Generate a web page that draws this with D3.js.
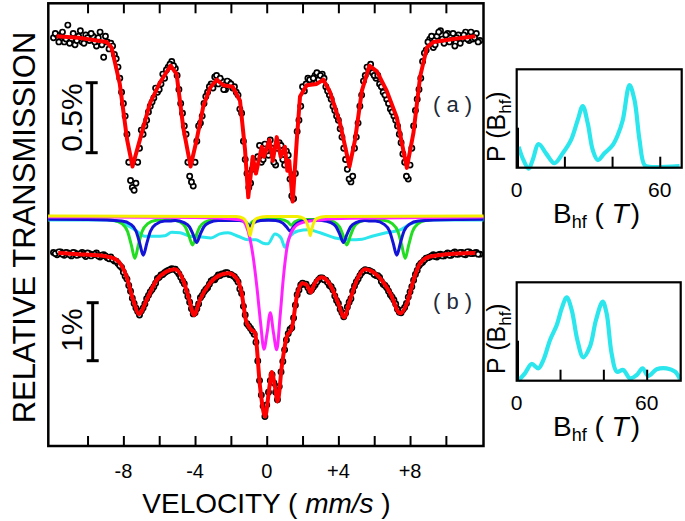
<!DOCTYPE html>
<html><head><meta charset="utf-8">
<script src="https://cdn.jsdelivr.net/npm/d3@7/dist/d3.min.js"></script>
<style>
body{margin:0;background:#fff}
svg{display:block;font-family:"Liberation Sans",Arial,Helvetica,sans-serif}
text{white-space:pre}
</style>
</head><body>
<svg id="chart" width="685" height="521"></svg>
<script>
// ---------- DATA ----------
// channel velocities (mm/s), two interleaved channel sets of the folded spectrum
const channelVelocity1 = [-11.9,-11.7,-11.5,-11.3,-11.1,-10.9,-10.7,-10.5,-10.3,-10.1,
-9.9,-9.7,-9.5,-9.3,-9.1,-8.9,-8.7,-8.5,-8.3,-8.1,
-7.9,-7.7,-7.5,-7.3,-7.1,-6.9,-6.7,-6.5,-6.3,-6.1,
-5.9,-5.7,-5.5,-5.3,-5.1,-4.9,-4.7,-4.5,-4.3,-4.1,
-3.9,-3.7,-3.5,-3.3,-3.1,-2.9,-2.7,-2.5,-2.3,-2.1,
-1.9,-1.7,-1.5,-1.3,-1.1,-0.9,-0.7,-0.5,-0.3,-0.1,
0.1,0.3,0.5,0.7,0.9,1.1,1.3,1.5,1.7,1.9,
2.1,2.3,2.5,2.7,2.9,3.1,3.3,3.5,3.7,3.9,
4.1,4.3,4.5,4.7,4.9,5.1,5.3,5.5,5.7,5.9,
6.1,6.3,6.5,6.7,6.9,7.1,7.3,7.5,7.7,7.9,
8.1,8.3,8.5,8.7,8.9,9.1,9.3,9.5,9.7,9.9,
10.1,10.3,10.5,10.7,10.9,11.1,11.3,11.5,11.7,11.9];
const channelVelocity2 = [-11.8,-11.6,-11.4,-11.2,-11.0,-10.8,-10.6,-10.4,-10.2,-10.0,
-9.8,-9.6,-9.4,-9.2,-9.0,-8.8,-8.6,-8.4,-8.2,-8.0,
-7.8,-7.6,-7.4,-7.2,-7.0,-6.8,-6.6,-6.4,-6.2,-6.0,
-5.8,-5.6,-5.4,-5.2,-5.0,-4.8,-4.6,-4.4,-4.2,-4.0,
-3.8,-3.6,-3.4,-3.2,-3.0,-2.8,-2.6,-2.4,-2.2,-2.0,
-1.8,-1.6,-1.4,-1.2,-1.0,-0.8,-0.6,-0.4,-0.2,0.0,
0.2,0.4,0.6,0.8,1.0,1.2,1.4,1.6,1.8,2.0,
2.2,2.4,2.6,2.8,3.0,3.2,3.4,3.6,3.8,4.0,
4.2,4.4,4.6,4.8,5.0,5.2,5.4,5.6,5.8,6.0,
6.2,6.4,6.6,6.8,7.0,7.2,7.4,7.6,7.8,8.0,
8.2,8.4,8.6,8.8,9.0,9.2,9.4,9.6,9.8,10.0,
10.2,10.4,10.6,10.8,11.0,11.2,11.4,11.6,11.8];

// spectrum (a): measured relative transmission (%)
const spectrumA1 = [99.99,100.01,99.97,99.96,100.08,99.98,99.94,100.00,99.96,100.01,
99.97,100.00,99.93,100.03,99.85,99.96,99.95,99.87,99.78,99.60,
99.43,99.10,98.92,98.95,99.20,99.30,99.40,99.50,99.56,99.60,
99.66,99.70,99.78,99.82,99.77,99.62,99.45,99.30,99.00,98.93,
99.25,99.38,99.52,99.60,99.66,99.71,99.66,99.68,99.62,99.67,
99.63,99.60,99.48,99.25,99.02,98.95,99.12,99.14,99.10,99.23,
99.15,99.20,99.08,99.24,99.12,99.18,98.98,98.84,99.32,99.50,
99.61,99.70,99.68,99.72,99.69,99.73,99.64,99.58,99.50,99.43,
99.34,99.20,99.05,98.96,99.20,99.38,99.58,99.72,99.76,99.74,
99.70,99.66,99.60,99.55,99.48,99.43,99.36,99.24,99.10,98.98,
99.20,99.47,99.62,99.82,99.90,99.98,99.92,100.00,100.04,99.95,
100.02,99.97,99.93,100.01,99.98,100.03,99.97,99.98,100.02,99.97];
const spectrumA2 = [100.02,99.96,100.03,99.98,99.95,100.02,99.97,100.04,99.95,99.99,
100.02,99.96,99.99,99.94,100.00,99.91,99.93,99.84,99.70,99.52,
99.30,98.97,98.90,99.10,99.33,99.36,99.46,99.53,99.63,99.62,
99.73,99.76,99.80,99.79,99.72,99.52,99.36,99.10,98.96,99.10,
99.36,99.43,99.57,99.64,99.63,99.72,99.70,99.62,99.68,99.66,
99.64,99.58,99.45,99.12,98.92,99.05,99.10,99.22,99.12,99.18,
99.26,99.10,99.20,99.22,99.08,99.15,98.86,99.02,99.40,99.64,
99.66,99.69,99.70,99.74,99.72,99.70,99.61,99.55,99.47,99.40,
99.28,99.12,98.98,99.00,99.28,99.50,99.68,99.78,99.80,99.72,
99.72,99.64,99.58,99.52,99.46,99.40,99.30,99.16,99.00,99.08,
99.36,99.55,99.70,99.88,99.96,100.00,99.94,100.03,99.98,100.01,
99.96,100.02,99.99,99.95,100.01,99.98,100.03,99.99,99.96];

// spectrum (b): measured relative transmission (%)
const spectrumB1 = [100.01,99.97,100.02,99.96,100.00,99.95,100.00,99.97,100.01,99.94,
99.99,99.97,100.00,99.93,99.97,99.92,99.93,99.86,99.82,99.75,
99.60,99.44,99.22,99.05,98.93,99.05,99.21,99.33,99.42,99.56,
99.62,99.66,99.70,99.73,99.72,99.64,99.52,99.34,99.15,98.95,
99.04,99.23,99.33,99.40,99.52,99.54,99.62,99.64,99.66,99.63,
99.61,99.55,99.38,99.08,98.78,98.70,98.60,98.14,97.55,97.18,
97.60,97.90,97.60,97.70,98.13,98.50,98.68,98.88,99.28,99.45,
99.46,99.40,99.36,99.45,99.54,99.57,99.53,99.44,99.36,99.18,
99.03,98.90,99.07,99.21,99.43,99.55,99.66,99.71,99.70,99.67,
99.61,99.58,99.46,99.40,99.28,99.19,99.03,98.97,99.06,99.24,
99.42,99.63,99.78,99.84,99.91,99.93,99.97,99.93,99.98,99.95,
100.00,99.96,100.02,99.98,100.01,99.97,100.02,99.99,100.01,99.98];
const spectrumB2 = [99.99,100.02,99.98,100.01,99.97,100.01,99.96,99.99,99.97,100.00,
99.95,99.98,99.95,99.96,99.95,99.90,99.89,99.86,99.78,99.67,
99.55,99.34,99.13,98.99,99.00,99.12,99.27,99.37,99.48,99.58,
99.63,99.68,99.71,99.72,99.68,99.58,99.47,99.25,99.04,98.97,
99.12,99.27,99.37,99.46,99.54,99.58,99.61,99.64,99.66,99.63,
99.59,99.50,99.30,98.93,98.74,98.65,98.46,97.80,97.36,97.38,
97.80,97.76,97.47,97.95,98.33,98.61,98.71,99.10,99.36,99.48,
99.46,99.34,99.41,99.50,99.57,99.54,99.49,99.42,99.26,99.13,
98.97,98.96,99.15,99.34,99.50,99.61,99.69,99.70,99.68,99.63,
99.61,99.51,99.44,99.34,99.24,99.12,98.98,99.02,99.13,99.33,
99.53,99.70,99.82,99.88,99.92,99.95,99.94,99.97,99.95,99.98,
99.96,100.00,99.98,100.01,99.98,100.02,99.99,100.00,99.98];

// fitted curves [velocity, transmission %]
const fitA = [[-11.73,100.00],[-10.5,99.99],[-9.5,99.97],[-8.94,99.96],[-8.66,99.92],[-8.2,99.66],[-7.79,99.26],[-7.49,99.07],
[-7.08,99.26],[-6.52,99.52],[-5.96,99.67],[-5.36,99.79],[-5.03,99.73],[-4.66,99.35],[-4.25,99.07],[-3.91,99.26],[-3.54,99.50],
[-3.17,99.63],[-2.79,99.69],[-2.42,99.65],[-1.90,99.64],[-1.49,99.54],[-1.21,99.19],[-1.03,98.85],[-0.78,99.14],[-0.60,99.02],
[-0.28,99.21],[-0.15,99.14],[0.15,99.26],[0.34,99.11],[0.56,99.28],[0.78,99.14],[1.02,99.21],[1.15,99.04],[1.26,99.11],[1.45,98.82],
[1.68,99.26],[1.86,99.57],[2.23,99.65],[2.79,99.66],[3.16,99.69],[3.54,99.60],[4.09,99.38],[4.62,99.07],[4.93,99.26],[5.31,99.61],
[5.73,99.79],[6.15,99.75],[6.70,99.61],[7.26,99.42],[7.82,99.06],[8.19,99.31],[8.56,99.71],[8.94,99.92],[9.31,99.96],[10.42,99.98],[11.64,100.00]];

const fitB = [[-11.64,100.00],[-10.5,99.98],[-8.94,99.94],[-8.38,99.88],[-7.82,99.59],[-7.45,99.19],[-7.12,98.95],[-6.7,99.19],
[-6.15,99.53],[-5.59,99.68],[-5.12,99.72],[-4.66,99.53],[-4.32,99.19],[-4.06,98.93],[-3.73,99.19],[-3.17,99.48],[-2.61,99.62],
[-2.15,99.65],[-1.68,99.56],[-1.4,99.31],[-1.16,98.84],[-0.93,98.70],[-0.65,98.62],[-0.37,97.69],[-0.09,97.18],[0.15,97.69],
[0.28,97.95],[0.46,97.69],[0.61,97.44],[0.84,98.04],[1.12,98.56],[1.4,98.70],[1.68,99.25],[1.96,99.48],[2.23,99.45],[2.46,99.32],
[2.64,99.45],[3.07,99.58],[3.54,99.45],[4.0,99.13],[4.32,98.89],[4.65,99.19],[5.03,99.53],[5.49,99.72],[6.15,99.62],[6.89,99.31],
[7.45,98.96],[7.82,99.13],[8.19,99.53],[8.56,99.82],[9.12,99.94],[10.61,99.99],[11.64,100.00]];

// fitted sub-spectra of (b), each relative to its own baseline (%)
const compCyan = [[-12.2,100],[-8.9,100],[-8.4,99.98],[-7.9,99.93],[-7.36,99.83],[-6.8,99.72],[-6.24,99.72],[-5.68,99.73],[-5.3,99.79],
[-4.84,99.78],[-4.28,99.72],[-3.73,99.71],[-3.11,99.69],[-2.61,99.76],[-2.16,99.78],[-1.6,99.72],[-1.04,99.66],[-0.6,99.66],[-0.2,99.60],
[0.07,99.59],[0.46,99.76],[0.8,99.69],[1.02,99.53],[1.3,99.72],[1.75,99.81],[2.31,99.83],[2.98,99.78],[3.82,99.69],[4.65,99.66],
[5.32,99.67],[5.88,99.72],[6.66,99.78],[7.45,99.83],[8.0,99.93],[8.56,99.98],[9.12,100],[12.1,100]];

const compGreen = [[-12.2,100],[-10,99.995],[-8.56,99.965],[-8.06,99.903],[-7.76,99.77],[-7.56,99.545],[-7.36,99.31],[-7.16,99.545],
[-6.96,99.77],[-6.66,99.903],[-6.16,99.965],[-5.75,99.97],[-5.34,99.977],[-4.84,99.936],[-4.54,99.85],[-4.34,99.70],[-4.14,99.54],
[-3.94,99.70],[-3.74,99.85],[-3.44,99.936],[-2.94,99.977],[-2.3,99.98],[-1.6,99.98],[-1.2,99.94],[-1.0,99.88],[-0.8,99.94],[-0.4,99.98],
[0.2,99.985],[0.77,99.98],[1.17,99.94],[1.37,99.88],[1.57,99.94],[1.97,99.98],[2.6,99.98],[3.27,99.977],[3.77,99.936],[4.07,99.85],
[4.27,99.70],[4.47,99.54],[4.67,99.70],[4.87,99.85],[5.17,99.936],[5.67,99.977],[6.1,99.97],[6.53,99.965],[7.03,99.903],[7.33,99.77],
[7.53,99.545],[7.73,99.31],[7.93,99.545],[8.13,99.77],[8.43,99.903],[8.93,99.965],[10.5,99.995],[12.1,100]];

const compBlue = [[-12.2,100],[-10,99.995],[-8.09,99.969],[-7.59,99.913],[-7.29,99.795],[-7.09,99.59],[-6.89,99.38],[-6.69,99.59],
[-6.49,99.795],[-6.19,99.913],[-5.69,99.969],[-5.4,99.97],[-5.11,99.98],[-4.61,99.944],[-4.31,99.87],[-4.11,99.74],[-3.91,99.60],
[-3.71,99.74],[-3.51,99.87],[-3.21,99.944],[-2.71,99.98],[-2.1,99.98],[-1.53,99.98],[-1.13,99.94],[-0.93,99.88],[-0.73,99.94],
[-0.33,99.98],[0.1,99.985],[0.5,99.98],[0.9,99.934],[1.1,99.87],[1.3,99.80],[1.5,99.87],[1.7,99.934],[2.1,99.98],[2.6,99.985],
[3.08,99.98],[3.58,99.944],[3.88,99.87],[4.08,99.74],[4.28,99.60],[4.48,99.74],[4.68,99.87],[4.98,99.944],[5.48,99.98],[5.77,99.97],
[6.06,99.969],[6.56,99.913],[6.86,99.795],[7.06,99.59],[7.26,99.38],[7.46,99.59],[7.66,99.795],[7.96,99.913],[8.46,99.969],
[10.5,99.995],[12.1,100]];

const compMagenta = [[-12.2,100],[-4,99.99],[-2.5,99.98],[-1.8,99.96],[-1.4,99.95],[-1.15,99.85],[-0.95,99.65],[-0.75,99.30],
[-0.55,98.80],[-0.35,98.20],[-0.15,97.72],[0.02,98.00],[0.2,98.35],[0.38,98.00],[0.56,97.71],[0.75,98.30],[0.93,98.95],
[1.12,99.45],[1.4,99.75],[1.86,99.89],[3.0,99.95],[4.6,99.98],[12.1,100]];

const compYellow = [[-12.2,100],[-1.7,99.99],[-1.3,99.96],[-1.12,99.88],[-1.02,99.78],[-0.93,99.66],[-0.84,99.78],[-0.74,99.88],
[-0.56,99.96],[0,99.99],[1.7,99.99],[2.06,99.96],[2.24,99.88],[2.34,99.78],[2.43,99.66],[2.52,99.78],[2.62,99.88],[2.8,99.96],
[3.3,99.99],[12.1,100]];

// hyperfine field distributions
const insetA_field = [0.84,2.5,5.0,6.7,9.2,12.3,15.8,19.3,22.8,25.6,27.7,29.8,31.9,34.0,36.8,40.3,42.4,44.5,47.3,49.4,51.5,53.6,55.7,68.3];
const insetA_prob  = [0.213,0.096,-0.01,0.078,0.241,0.146,0.045,0.146,0.282,0.485,0.627,0.451,0.18,0.078,0.146,0.231,0.332,0.485,0.84,0.688,0.282,0.027,0.01,0.017];
const insetB_field = [0.7,3.8,6.9,10.0,12.3,15.4,18.5,20.8,23.1,25.4,28.0,30.7,33.8,36.6,39.7,41.5,43.8,46.2,49.2,52.3,55.4,58.1,60.7,64.6,69.2,73.1,75.4];
const insetB_prob  = [0,0.075,0.17,0.126,0.21,0.414,0.566,0.736,0.848,0.718,0.414,0.238,0.346,0.617,0.803,0.685,0.278,0.091,0.109,0.024,0.058,0.126,0.048,0.116,0.126,0.091,0.014];

const velocityTicks = [-10,-8,-6,-4,-2,0,2,4,6,8,10];
const velocityLabelValues = [-8,-4,0,4,8];
const velocityLabels = ["-8","-4","0","+4","+8"];
const fieldTicks = [20,40,60];
const fieldLabelValues = [0,60];

// ---------- DRAW ----------
const svg = d3.select("#chart");
const x = d3.scaleLinear().domain([-12.19,12.1]).range([48.3,483.5]);
const yA = d3.scaleLinear().domain([100,99]).range([36.3,176.3]);
const yB = d3.scaleLinear().domain([100,99]).range([253,311]);
const compBase = {cyan:220, green:218.3, blue:219.3, magenta:217, yellow:216};
const compColor = {cyan:"#2be6ec", green:"#22dd22", blue:"#1414d8", magenta:"#ff22ff", yellow:"#f4ee00"};

// frame
svg.append("rect").attr("x",48.3).attr("y",3.3).attr("width",483.5-48.3).attr("height",446-3.3)
  .attr("fill","none").attr("stroke","#000").attr("stroke-width",2.5);

const axB = svg.append("g").attr("transform","translate(0,446)")
  .call(d3.axisBottom(x).tickValues(velocityTicks).tickSize(-10).tickFormat(""));
const axT = svg.append("g").attr("transform","translate(0,3.3)")
  .call(d3.axisTop(x).tickValues(velocityTicks).tickSize(-10).tickFormat(""));
[axB,axT].forEach(g=>{g.select(".domain").remove(); g.selectAll("line").attr("stroke","#000").attr("stroke-width",2);});

svg.selectAll("text.vl").data(velocityLabelValues).enter().append("text")
  .attr("x",d=>x(d)).attr("y",478).attr("text-anchor","middle").attr("font-size",20)
  .text((d,i)=>velocityLabels[i]);

const vt = svg.append("text").attr("x",266.5).attr("y",513).attr("text-anchor","middle").attr("font-size",28);
vt.append("tspan").text("VELOCITY ( ");
vt.append("tspan").attr("font-style","italic").text("mm/s");
vt.append("tspan").text(" )");

svg.append("text").attr("transform","translate(35,227.5) rotate(-90)").attr("text-anchor","middle")
  .attr("font-size",31).text("RELATIVE TRANSMISSION");

// scale bars
function scaleBar(xp, top, len, label, labelY){
  const g = svg.append("g").attr("stroke","#000").attr("stroke-width",3);
  g.append("line").attr("x1",xp).attr("x2",xp).attr("y1",top).attr("y2",top+len);
  g.append("line").attr("x1",xp-6).attr("x2",xp+6).attr("y1",top).attr("y2",top);
  g.append("line").attr("x1",xp-6).attr("x2",xp+6).attr("y1",top+len).attr("y2",top+len);
  svg.append("text").attr("transform",`translate(81.5,${labelY}) rotate(-90)`).attr("text-anchor","middle")
    .attr("font-size",30).text(label);
}
scaleBar(91.7, 82.7, yA(99.5)-yA(100), "0.5%", 117.5);
scaleBar(92.7, 302.7, yB(99)-yB(100), "1%", 330);

// components
const compLine = base => {
  const yc = d3.scaleLinear().domain([100,99]).range([base, base+58]);
  return d3.line().x(d=>x(d[0])).y(d=>yc(d[1])).curve(d3.curveMonotoneX);
};
[["cyan",compCyan],["green",compGreen],["blue",compBlue],["magenta",compMagenta],["yellow",compYellow]].forEach(([k,arr])=>{
  svg.append("path").attr("d",compLine(compBase[k])(arr)).attr("fill","none")
    .attr("stroke",compColor[k]).attr("stroke-width",3).attr("stroke-linejoin","round");
});

// data points
function points(vels, vals, ys){
  svg.append("g").selectAll("circle").data(vals).enter().append("circle")
    .attr("cx",(d,i)=>x(vels[i])).attr("cy",d=>ys(d)).attr("r",2.6)
    .attr("fill","#fff").attr("stroke","#000").attr("stroke-width",1.7);
}
points(channelVelocity1, spectrumA1, yA);
points(channelVelocity2, spectrumA2, yA);
points(channelVelocity1, spectrumB1, yB);
points(channelVelocity2, spectrumB2, yB);

// fits
svg.append("path").attr("d",d3.line().x(d=>x(d[0])).y(d=>yA(d[1]))(fitA))
  .attr("fill","none").attr("stroke","#ff0000").attr("stroke-width",4).attr("stroke-linejoin","round");
svg.append("path").attr("d",d3.line().x(d=>x(d[0])).y(d=>yB(d[1])).curve(d3.curveMonotoneX)(fitB))
  .attr("fill","none").attr("stroke","#ff0000").attr("stroke-width",4).attr("stroke-linejoin","round");

svg.append("text").attr("x",452.5).attr("y",112).attr("text-anchor","middle").attr("font-size",22).attr("fill","#1d2a3a").text("( a )");
svg.append("text").attr("x",452.5).attr("y",309).attr("text-anchor","middle").attr("font-size",22).attr("fill","#1d2a3a").text("( b )");

// insets
function inset(left, top, right, bottom, fmax, fields, probs, labelBase){
  const xs = d3.scaleLinear().domain([0,fmax]).range([left,right]);
  const ys = d3.scaleLinear().domain([0,1]).range([bottom, top]);
  svg.append("path").attr("d",d3.line().x((d,i)=>xs(fields[i])).y(d=>ys(d)).curve(d3.curveCatmullRom)(probs))
    .attr("fill","none").attr("stroke","#2be6ec").attr("stroke-width",4.2).attr("stroke-linejoin","round");
  svg.append("rect").attr("x",left).attr("y",top).attr("width",right-left).attr("height",bottom-top)
    .attr("fill","none").attr("stroke","#000").attr("stroke-width",2.2);
  svg.append("line").attr("x1",left+0.8).attr("x2",left+0.8).attr("y1",bottom-40).attr("y2",bottom).attr("stroke","#000").attr("stroke-width",3);
  const ax = svg.append("g").attr("transform",`translate(0,${bottom})`)
    .call(d3.axisBottom(xs).tickValues(fieldTicks).tickSize(-11).tickFormat(""));
  ax.select(".domain").remove(); ax.selectAll("line").attr("stroke","#000").attr("stroke-width",2);
  svg.selectAll(null).data(fieldLabelValues).enter().append("text")
    .attr("x",d=>xs(d)).attr("y",bottom+29.5).attr("text-anchor","middle").attr("font-size",21).text(d=>d);
  const t = svg.append("text").attr("x",553).attr("y",bottom+55.6).attr("font-size",28);
  t.append("tspan").text("B");
  t.append("tspan").attr("font-size",18).attr("dy",5).text("hf");
  t.append("tspan").attr("dy",-5).text(" ( ");
  t.append("tspan").attr("font-style","italic").text("T");
  t.append("tspan").attr("dx",2).text(")");
  const p = svg.append("text").attr("transform",`translate(504.5,${labelBase}) rotate(-90)`).attr("font-size",25);
  p.append("tspan").text("P (B");
  p.append("tspan").attr("font-size",17).attr("dy",6).text("hf");
  p.append("tspan").attr("dy",-6).text(")");
}
inset(516.7, 69.3, 681.7, 167.7, 69.2, insetA_field, insetA_prob, 162);
inset(516.7, 282.3, 680.7, 380.7, 75.7, insetB_field, insetB_prob, 374);
</script>
</body></html>
